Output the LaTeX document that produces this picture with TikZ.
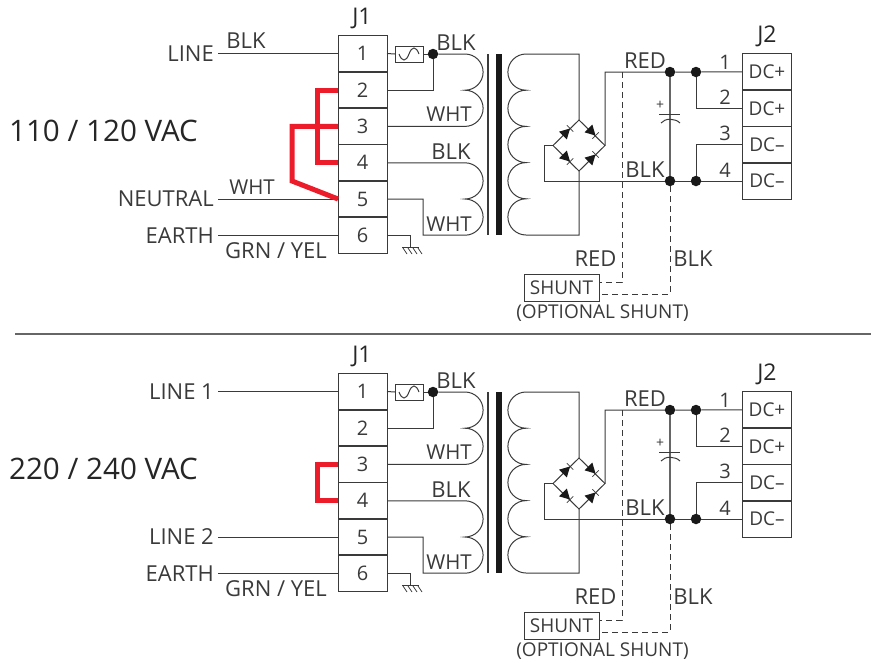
\documentclass[tikz,border=0pt]{standalone}
\usepackage{fontspec}
\usetikzlibrary{calc}
\setmainfont{Open Sans}
\definecolor{wire}{HTML}{3A3A3A}
\definecolor{jumper}{HTML}{EC1C2B}
\tikzset{
  wireline/.style={draw=wire,line width=1pt},
  dashline/.style={draw=wire,line width=1pt,dash pattern=on 6pt off 4pt},
  jumperline/.style={draw=jumper,line width=5pt,line join=miter},
  lbl/.style={text=wire,font=\fontsize{22}{22}\selectfont,inner sep=0pt},
  whtlbl/.style={lbl,font=\fontsize{20.5}{21}\selectfont},
  pinlbl/.style={lbl,font=\fontsize{20}{20}\selectfont},
  titlelbl/.style={text=black!85,font=\fontsize{29.6}{30}\selectfont,inner sep=0pt},
  connlbl/.style={text=black!85,font=\fontsize{23}{23}\selectfont,inner sep=0pt},
  termbox/.style={draw=wire,line width=1pt,text=wire,minimum width=49pt,minimum height=36.4pt,
    inner sep=0pt,outer sep=0pt,font=\fontsize{20}{20}\selectfont},
  dcbox/.style={termbox,font=\fontsize{19}{19}\selectfont},
  dot/.style={circle,fill=black!90,minimum size=10.5pt,inner sep=0pt,outer sep=0pt},
  diode/.pic={
    \fill[black!90] (-5,-5.5) -- (-5,5.5) -- (5,0) -- cycle;
    \draw[wire,line width=.8pt] (5,-4.5) -- (5,4.5);
  }
}
% everything that both supply variants share
\newcommand{\commonblock}{%
  % J1 terminals
  \foreach \n/\ypos/\t in {a/53.5/1,b/90/2,c/126.4/3,d/162.8/4,e/199/5,f/235.5/6}
    \node[termbox] (j1\n) at (362.5,\ypos) {\t};
  \draw[wire,line width=1.6pt] (j1a.south west) -- (j1a.south east)
    (j1b.south west) -- (j1b.south east) (j1c.south west) -- (j1c.south east)
    (j1d.south west) -- (j1d.south east) (j1e.south west) -- (j1e.south east);
  \node[connlbl] (j1lbl) at (362,18) {J1};
  % Fusibile
  \node[draw=wire,line width=1pt,minimum width=28pt,minimum height=16pt,inner sep=0pt,outer sep=0pt] (fuse) at (409,54) {};
  \draw[wireline] ($(fuse.west)+(4,0)$) .. controls +(3,8) and +(-3,8) .. (fuse.center) .. controls +(3,-8) and +(-3,-8) .. ($(fuse.east)+(-4,0)$);
  \node[dot] (fusedot) at (433,54) {};
  \draw[wireline] (j1a.east) -- (fuse.west);
  \draw[wireline] (fuse.east) -- (fusedot);
  \draw[wireline] (j1b.east) -| (fusedot);
  % Primario
  \coordinate (pa) at (465,54);
  \coordinate (pb) at (465,126.4);
  \coordinate (pc) at (465,162.8);
  \coordinate (pd) at (465,235);
  \draw[wireline] (fusedot) -- (pa) arc[start angle=90,end angle=-90,radius=18.1pt]
    arc[start angle=90,end angle=-90,radius=18.1pt] -- (j1c.east);
  \draw[wireline] (j1d.east) -- (pc) arc[start angle=90,end angle=-90,radius=18.1pt]
    arc[start angle=90,end angle=-90,radius=18.1pt] -- (423,235) -- (423,199) -- (j1e.east);
  % Nucleo
  \draw[wire,line width=2pt] (488,54) -- (488,235);
  \fill[black!90] (496,54) rectangle (502,235);
  % Secondario
  \coordinate (sa) at (526,54);
  \coordinate (st) at (579,120);
  \coordinate (sl) at (553,145.5);
  \coordinate (sr) at (605,145.5);
  \coordinate (sb) at (579,171);
  \draw[wireline] (st) |- (sa) arc[start angle=90,end angle=270,radius=18.1pt]
    arc[start angle=90,end angle=270,radius=18.1pt] arc[start angle=90,end angle=270,radius=18.1pt]
    arc[start angle=90,end angle=270,radius=18.1pt] arc[start angle=90,end angle=270,radius=18.1pt] -| (sb);
  % Ponte di diodi
  \draw[wireline] (st) -- (sr) -- (sb) -- (sl) -- cycle;
  \pic[rotate=45] at (566.5,132) {diode};
  \pic[rotate=-45] at (592,132) {diode};
  \pic[rotate=-45] at (566.5,158) {diode};
  \pic[rotate=45] at (592,158) {diode};
  % J2 terminals
  \foreach \n/\ypos/\t in {a/71.8/DC+,b/108.3/DC+,c/144.7/DC–,d/181/DC–}
    \node[dcbox] (j2\n) at (767,\ypos) {\t};
  \draw[wire,line width=1.6pt] (j2a.south west) -- (j2a.south east)
    (j2b.south west) -- (j2b.south east) (j2c.south west) -- (j2c.south east);
  \node[connlbl] (j2lbl) at (767,36) {J2};
  % Uscita DC
  \node[dot] (redcap) at (670,72) {};
  \node[dot] (redout) at (696,72) {};
  \node[dot] (blkcap) at (670,181) {};
  \node[dot] (blkout) at (696,181) {};
  \draw[wireline] (sr) -- (605,72) -- (redcap) -- (redout) -- (j2a.west);
  \draw[wireline] (redout) |- (j2b.west);
  \draw[wireline] (j2c.west) -| (blkout);
  \draw[wireline] (sl) -- (544,145.5) -- (544,181) -- (blkcap) -- (blkout) -- (j2d.west);
  % Condensatore
  \draw[black!60,line width=1.3pt] (redcap) -- (blkcap);
  \draw[wireline] (659,114) -- (680,114);
  \draw[wireline] (661,123) .. controls (665,118) and (675,118) .. (680,123);
  \node[text=wire,font=\fontsize{14}{14}\selectfont,inner sep=0pt] (plus) at (660,105) {+};
  % Terra
  \coordinate (gnd) at (410.5,247);
  \draw[wireline] (j1f.east) -| (gnd);
  \draw[wireline] (402,247) -- (419,247);
  \foreach \xpos in {403,408,413,418}
    \draw[wire,line width=.8pt] (\xpos,248) -- (\xpos+4,254);
  % Shunt opzionale
  \node[draw=wire,line width=1pt,lbl,minimum width=75pt,minimum height=27pt,font=\fontsize{19}{19}\selectfont] (shunt) at (561.5,287.5) {SHUNT};
  \draw[dashline] (622,72) -- (622,282) -- (shunt.east |- 0,282);
  \draw[dashline] (blkcap) -- (670,294) -- (shunt.east |- 0,294);
  % Etichette
  \node[lbl] (lbla) at (456,43) {BLK};
  \node[whtlbl] (lblb) at (449,114.5) {WHT};
  \node[lbl] (lblc) at (451,151.5) {BLK};
  \node[whtlbl] (lbld) at (449,224.5) {WHT};
  \node[lbl] (lble) at (645,61) {RED};
  \node[lbl] (lblf) at (645,169.5) {BLK};
  \node[lbl] (lblg) at (595.5,258.5) {RED};
  \node[lbl] (lblh) at (693,258.5) {BLK};
  \node[pinlbl] (pina) at (725,62) {1};
  \node[pinlbl] (pinb) at (725,97.5) {2};
  \node[pinlbl] (pinc) at (725,133.5) {3};
  \node[pinlbl] (pind) at (725,170.5) {4};
  \node[lbl,font=\fontsize{19}{19}\selectfont] (optlbl) at (602.5,313) {(OPTIONAL SHUNT)};
  \node[lbl] (grn) at (276,250.5) {GRN / YEL};
  \node[lbl,anchor=east] (earth) at (214,235.5) {EARTH};
  \draw[wireline] (earth.east) ++(4,0) -- (j1f.west);
}
\begin{document}
\begin{tikzpicture}[x=1pt,y=-1pt]
  \useasboundingbox (0,0) rectangle (871,662);
  % 110 / 120 VAC
  \begin{scope}[name prefix=top-]
    \commonblock
    \node[titlelbl] (title) at (103.5,131) {110 / 120 VAC};
    \node[lbl,anchor=east] (line) at (214,53.5) {LINE};
    \node[lbl,anchor=east] (neutral) at (214,199) {NEUTRAL};
    \node[lbl] (lineblk) at (246,41) {BLK};
    \node[whtlbl] (neuwht) at (252,187.5) {WHT};
    \draw[wireline] (line.east) ++(4,0) -- (j1a.west);
    \draw[wireline] (neutral.east) ++(4,0) -- (j1e.west);
    % Ponticelli
    \draw[jumperline] (j1b.west) -- (317,90) -- (317,162.8) -- (j1d.west);
    \draw[jumperline] (j1c.west) -- (292,126.4) -- (292,181) -- (j1e.west);
  \end{scope}
  % Separatore
  \draw[black!60,line width=2.4pt] (15,334) -- (871,334);
  % 220 / 240 VAC
  \begin{scope}[name prefix=bot-,shift={(0,338)}]
    \commonblock
    \node[titlelbl] (title) at (103.5,131) {220 / 240 VAC};
    \node[lbl,anchor=east] (line) at (214,53.5) {LINE 1};
    \node[lbl,anchor=east] (linetwo) at (214,199) {LINE 2};
    \draw[wireline] (line.east) ++(4,0) -- (j1a.west);
    \draw[wireline] (linetwo.east) ++(4,0) -- (j1e.west);
    % Ponticello
    \draw[jumperline] (j1c.west) -- (317,126.4) -- (317,162.8) -- (j1d.west);
  \end{scope}
\end{tikzpicture}
\end{document}
